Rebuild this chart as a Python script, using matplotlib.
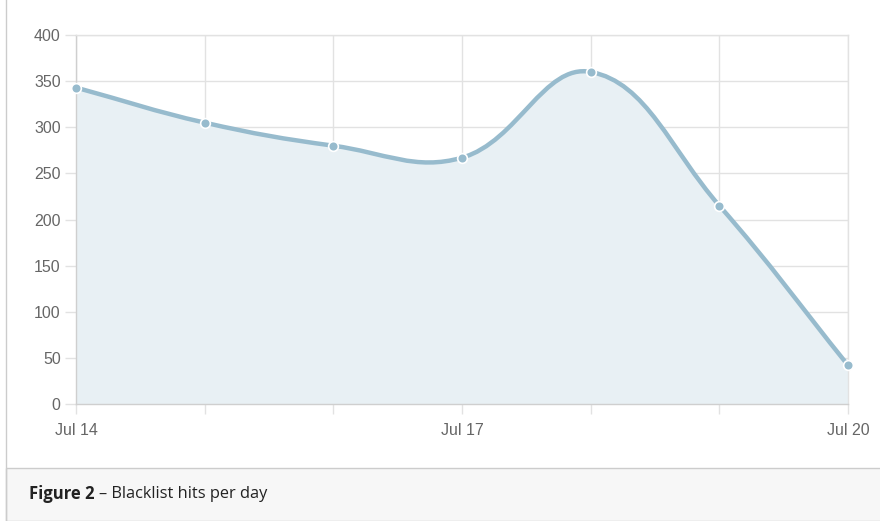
import numpy as np
import matplotlib.pyplot as plt
from matplotlib.path import Path
from matplotlib.patches import PathPatch, Rectangle

days = ['Jul 14', 'Jul 15', 'Jul 16', 'Jul 17', 'Jul 18', 'Jul 19', 'Jul 20']
hits = [343, 305, 280, 267, 360, 215, 42]
y_ticks = [0, 50, 100, 150, 200, 250, 300, 350, 400]
shown_labels = ['Jul 14', 'Jul 17', 'Jul 20']

line_col = '#97bbcd'
fill_col = '#e8f0f4'
grid_col = '#e2e2e2'
text_col = '#666666'

fig = plt.figure(figsize=(8.8, 5.21), dpi=100)
ax = fig.add_axes([76 / 880, 1 - 404 / 521, 772 / 880, 369 / 521])
ax.set_xlim(0, len(days) - 1)
ax.set_ylim(0, 400)

x = np.arange(len(days))
y = np.array(hits, dtype=float)

# chart.js style bezier (tension 0.4), computed in pixel space
pts = ax.transData.transform(np.column_stack([x, y]))
t = 0.4
verts = [pts[0]]
codes = [Path.MOVETO]
ctrl = []
for i in range(len(pts)):
    p0 = pts[max(i - 1, 0)]
    p1 = pts[i]
    p2 = pts[min(i + 1, len(pts) - 1)]
    d01 = np.hypot(*(p1 - p0))
    d12 = np.hypot(*(p2 - p1))
    s = d01 + d12
    fa = t * d01 / s if s else 0
    fb = t * d12 / s if s else 0
    ctrl.append((p1 - fa * (p2 - p0), p1 + fb * (p2 - p0)))
for i in range(len(pts) - 1):
    verts += [ctrl[i][1], ctrl[i + 1][0], pts[i + 1]]
    codes += [Path.CURVE4] * 3
inv = ax.transData.inverted()
dverts = inv.transform(np.array(verts))

fill_verts = list(dverts) + [(x[-1], 0), (x[0], 0), dverts[0]]
fill_codes = codes + [Path.LINETO, Path.LINETO, Path.CLOSEPOLY]
ax.add_patch(PathPatch(Path(fill_verts, fill_codes), facecolor=fill_col,
                       edgecolor='none', zorder=1))
ax.add_patch(PathPatch(Path(dverts, codes), facecolor='none', edgecolor=line_col,
                       lw=3.2, zorder=3, capstyle='round', joinstyle='round'))
ax.plot(x, y, 'o', ms=7, mfc=line_col, mec='white', mew=1.2, zorder=4, clip_on=False)

ax.set_xticks(x)
ax.set_xticklabels([d if d in shown_labels else '' for d in days])
ax.set_yticks(y_ticks)
ax.grid(True, color=grid_col, lw=1, zorder=0)
ax.set_axisbelow(True)
ax.tick_params(axis='x', length=7.5, width=1, color=grid_col, labelcolor=text_col,
               labelsize=11.5, pad=6)
ax.tick_params(axis='y', length=8, width=1, color=grid_col, labelcolor=text_col,
               labelsize=11.5, pad=3)
for lab in ax.get_xticklabels() + ax.get_yticklabels():
    lab.set_fontfamily('Liberation Sans')
for side in ['top', 'right']:
    ax.spines[side].set_color(grid_col)
    ax.spines[side].set_linewidth(1)
for side in ['left', 'bottom']:
    ax.spines[side].set_color('#cfcfcf')
    ax.spines[side].set_linewidth(1)

# caption panel and frame
fig.patches.append(Rectangle((5.5 / 880, 0.5 / 521), 880, 53 / 521, transform=fig.transFigure,
                             facecolor='#f7f7f7', edgecolor='#cccccc', lw=1, zorder=0))
fig.add_artist(plt.Line2D([5.5 / 880, 5.5 / 880], [0, 1], color='#cccccc', lw=1))
fig.text(29 / 880, 1 - 494 / 521, 'Figure 2', fontsize=12, fontweight='bold',
         family='Open Sans', color='#222222', va='center')
fig.text(99 / 880, 1 - 494 / 521, '\u2013 Blacklist hits per day', fontsize=11.8,
         family='Open Sans', color='#222222', va='center')

fig.savefig('out.png', dpi=100)
